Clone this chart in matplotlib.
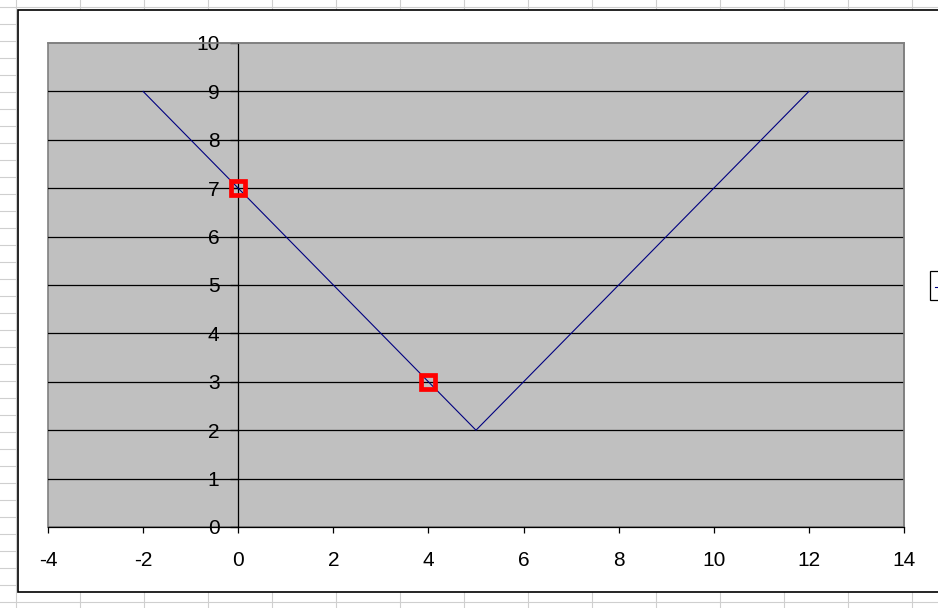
import numpy as np
import matplotlib.pyplot as plt
from matplotlib.lines import Line2D
from matplotlib.patches import Rectangle

# data
line_x = [-2, 5, 12]
line_y = [9, 2, 9]
point_x = [0, 4]
point_y = [7, 3]
x_ticks = [-4, -2, 0, 2, 4, 6, 8, 10, 12, 14]
y_ticks = [0, 1, 2, 3, 4, 5, 6, 7, 8, 9, 10]

W, H = 938, 608
plt.rcParams['font.family'] = ['Liberation Sans', 'DejaVu Sans']

fig = plt.figure(figsize=(W / 100, H / 100), dpi=100)
fig.patch.set_facecolor('white')


def fx(x):
    return x / W


def fy(y):
    return 1 - y / H


# spreadsheet cell grid behind the chart
for gx in range(16, W, 64):
    fig.add_artist(Line2D([fx(gx), fx(gx)], [0, 1], color='#cfcfcf', lw=0.8, zorder=0))
for gy in range(7, H, 17):
    fig.add_artist(Line2D([0, 1], [fy(gy), fy(gy)], color='#cfcfcf', lw=0.8, zorder=0))

# chart area
fig.add_artist(Rectangle((fx(18), fy(592)), fx(960 - 18), (592 - 10) / H,
                         facecolor='white', edgecolor='black', lw=1.2, zorder=1))
# legend box (cut off at the right)
fig.add_artist(Rectangle((fx(930), fy(300)), fx(30), 29 / H,
                         facecolor='white', edgecolor='black', lw=0.9, zorder=2))
fig.add_artist(Line2D([fx(935), fx(940)], [fy(287), fy(287)], color='#000080', lw=0.8, zorder=3))

ax = fig.add_axes([fx(48), fy(527), (904 - 48) / W, (527 - 43) / H], zorder=5)
ax.set_facecolor('#c0c0c0')

ax.plot(line_x, line_y, color='#000080', lw=0.8, zorder=3)
ax.plot(point_x, point_y, linestyle='none', marker='s', markersize=10.3,
        markerfacecolor='none', markeredgecolor='#ff0000', markeredgewidth=3.4, zorder=4)

ax.set_xlim(-4, 14)
ax.set_ylim(0, 10)
ax.set_xticks(x_ticks)
ax.set_yticks(y_ticks)
ax.set_xticklabels([str(t) for t in x_ticks])
ax.set_yticklabels([str(t) for t in y_ticks])

for yv in y_ticks[1:-1]:
    ax.axhline(yv, color='black', lw=0.9, zorder=1)

ax.spines['left'].set_position(('data', 0))
ax.spines['left'].set_color('black')
ax.spines['left'].set_linewidth(0.9)
ax.spines['bottom'].set_color('black')
ax.spines['bottom'].set_linewidth(0.9)
for s in ['top', 'right']:
    ax.spines[s].set_color('#808080')
    ax.spines[s].set_linewidth(1.2)
ax.add_patch(Rectangle((0, 0), 1, 1, transform=ax.transAxes, fill=False,
                       edgecolor='#808080', lw=1.2, zorder=0.5, clip_on=False))

ax.tick_params(axis='y', direction='out', length=5.5, width=0.9, pad=8, labelsize=15, colors='black')
ax.tick_params(axis='x', direction='out', length=4.5, width=0.9, pad=13, labelsize=15, colors='black')

fig.savefig('out.png', dpi=100)
